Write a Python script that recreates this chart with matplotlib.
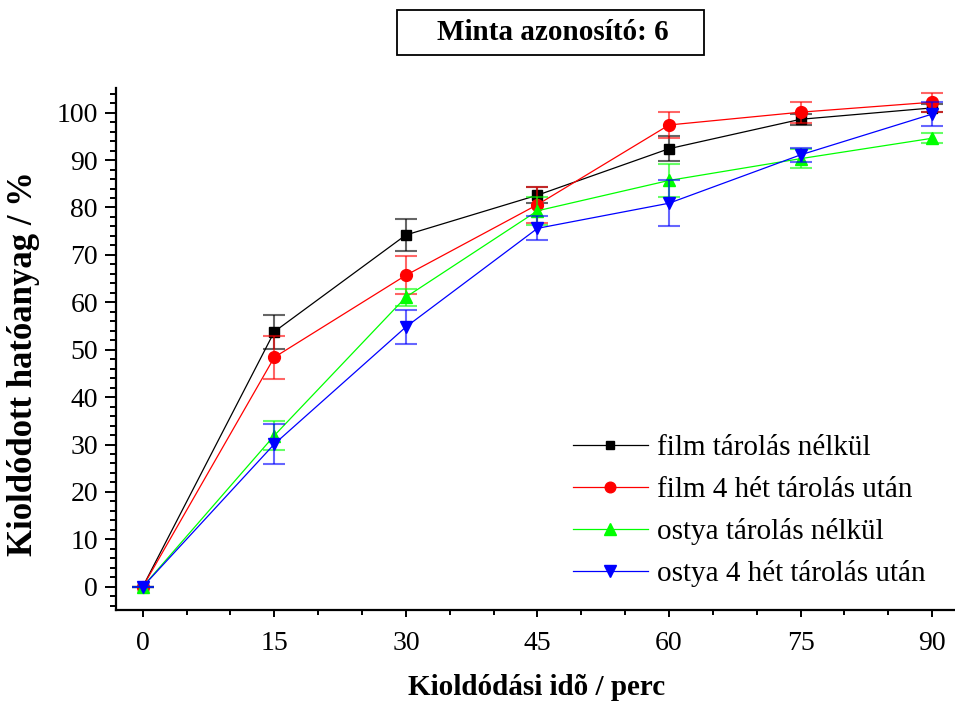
import matplotlib
matplotlib.use("Agg")
import matplotlib.pyplot as plt
from matplotlib.patches import Rectangle
from matplotlib.ticker import MultipleLocator
import numpy as np

plt.rcParams['font.family'] = ['Liberation Serif', 'DejaVu Serif']

# kioldodasi ido (perc)
ido = [0, 15, 30, 45, 60, 75, 90]

film_nelkul = [0, 53.8, 74.2, 82.6, 92.4, 98.6, 101.0]
film_nelkul_err = [0, 3.6, 3.4, 1.7, 2.6, 1.2, 0.8]
film_4het = [0, 48.4, 65.7, 80.6, 97.4, 100.1, 102.2]
film_4het_err = [0, 4.5, 4.0, 3.8, 2.8, 2.2, 2.0]
ostya_nelkul = [0, 31.9, 61.1, 79.3, 85.7, 90.3, 94.6]
ostya_nelkul_err = [0, 3.0, 1.8, 3.0, 3.4, 2.0, 1.1]
ostya_4het = [0, 30.1, 54.8, 75.6, 80.9, 91.1, 99.7]
ostya_4het_err = [0, 4.2, 3.5, 2.5, 4.8, 1.5, 2.5]

cimkek = ['film tárolás nélkül', 'film 4 hét tárolás után',
          'ostya tárolás nélkül', 'ostya 4 hét tárolás után']

fig = plt.figure(figsize=(9.55, 7.08), dpi=100)
ax = fig.add_axes([116/955, 98/708, 1 - 116/955, 522/708])

sorok = [
    (film_nelkul, film_nelkul_err, 'black', 's', 7),
    (film_4het, film_4het_err, 'red', 'o', 8.5),
    (ostya_nelkul, ostya_nelkul_err, '#00ff00', '^', 9),
    (ostya_4het, ostya_4het_err, 'blue', 'v', 9),
]

for i, (y, e, c, m, ms) in enumerate(sorok):
    ax.errorbar(ido, y, yerr=e, fmt='none', ecolor=c, alpha=0.6,
                elinewidth=1.5, capsize=8, capthick=1.5, zorder=2 + i)
    ax.plot(ido, y, color=c, lw=0.9, marker=m, ms=ms, mec=c, mfc=c,
            label=cimkek[i], zorder=3 + i)

ax.set_xlim(-3.05, 92.6)
ax.set_ylim(-4.9, 105.2)
ax.xaxis.set_major_locator(MultipleLocator(15))
ax.xaxis.set_minor_locator(MultipleLocator(5))
ax.yaxis.set_major_locator(MultipleLocator(10))
ax.yaxis.set_minor_locator(MultipleLocator(2))

for s in ['top', 'right']:
    ax.spines[s].set_visible(False)
for s in ['left', 'bottom']:
    ax.spines[s].set_linewidth(1.6)

ax.tick_params(axis='x', which='major', direction='out', length=5, width=1.4,
               labelsize=20, pad=10)
ax.tick_params(axis='x', which='minor', direction='out', length=3.5, width=1.4)
ax.tick_params(axis='y', which='major', direction='out', length=8, width=1.4,
               labelsize=20, pad=5)
ax.tick_params(axis='y', which='minor', direction='out', length=4.5, width=1.4)

ax.set_xlabel('Kioldódási idõ / perc', fontsize=21, fontweight='bold')
ax.xaxis.set_label_coords((537 - 116) / 839, (610 - 674) / 522)
ax.set_ylabel('Kioldódott hatóanyag / %', fontsize=25, fontweight='bold')
ax.yaxis.set_label_coords((40 - 116) / 839, (610 - 364) / 522)

leg = ax.legend(loc='upper left', bbox_to_anchor=(573/955, (708 - 435)/708),
                bbox_transform=fig.transFigure, frameon=False, fontsize=21,
                handlelength=2.57, handletextpad=0.3, labelspacing=0.52,
                borderpad=0, borderaxespad=0, markerscale=0.9)

# cim doboz
fig.patches.append(Rectangle((397/955, (708 - 55)/708), 307/955, 45/708,
                             transform=fig.transFigure, fill=False,
                             lw=1.3, edgecolor='black'))
fig.text(553/955, (708 - 32)/708, 'Minta azonosító: 6', fontsize=21,
         fontweight='bold', ha='center', va='center')

fig.savefig('out.png', dpi=100)
